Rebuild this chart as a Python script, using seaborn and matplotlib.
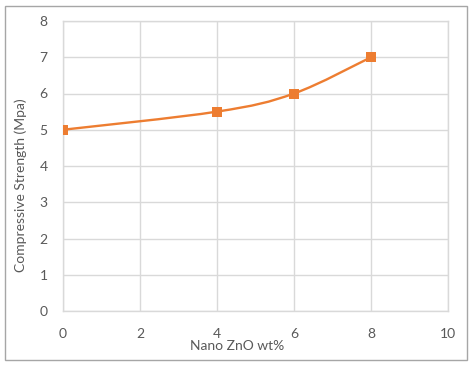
import numpy as np
import matplotlib
matplotlib.use("Agg")
import matplotlib.pyplot as plt
import seaborn as sns
from matplotlib.path import Path
from matplotlib.patches import PathPatch, Rectangle

# data
zno_wt = [0, 4, 6, 8]
strength = [5.0, 5.5, 6.0, 7.0]
x_ticks = [0, 2, 4, 6, 8, 10]
y_ticks = [0, 1, 2, 3, 4, 5, 6, 7, 8]

orange = "#ED7D31"
grid_col = "#D9D9D9"
text_col = "#595959"

sns.set_style("white")
plt.rcParams["font.family"] = ["Lato", "DejaVu Sans"]

fig = plt.figure(figsize=(4.76, 3.66), dpi=100)
ax = fig.add_axes([63 / 476, 55 / 366, 385 / 476, 290 / 366])

# Excel-style smoothed line: cubic bezier segments through the data points
pts = np.column_stack([zno_wt, strength])
verts = [pts[0]]
codes = [Path.MOVETO]
n = len(pts)
for i in range(n - 1):
    p_prev = pts[max(i - 1, 0)]
    p0 = pts[i]
    p1 = pts[i + 1]
    p_next = pts[min(i + 2, n - 1)]
    c1 = p0 + (p1 - p_prev) / 6
    c2 = p1 - (p_next - p0) / 6
    verts += [c1, c2, p1]
    codes += [Path.CURVE4] * 3
ax.add_patch(PathPatch(Path(verts, codes), facecolor="none", edgecolor=orange,
                       lw=1.7, capstyle="round", zorder=3))

sns.scatterplot(x=zno_wt, y=strength, marker="s", s=55, color=orange,
                edgecolor=orange, linewidth=0, ax=ax, zorder=4)

ax.set_xlim(0, 10)
ax.set_ylim(0, 8)
ax.set_xticks(x_ticks)
ax.set_yticks(y_ticks)
ax.grid(True, color=grid_col, lw=1)
ax.set_axisbelow(True)
for s in ax.spines.values():
    s.set_color(grid_col)
    s.set_linewidth(1)
ax.tick_params(length=0, labelsize=10, labelcolor=text_col)
ax.tick_params(axis="x", pad=12)
ax.tick_params(axis="y", pad=11)

ax.set_xlabel("Nano ZnO wt%", fontsize=10, color=text_col)
ax.xaxis.set_label_coords(0.453, -0.122)
ax.xaxis.label.set_va("center")
ax.set_ylabel("Compressive Strength (Mpa)", fontsize=10, color=text_col)
ax.yaxis.set_label_coords(-0.109, 0.434)
ax.yaxis.label.set_va("center")

# chart area border
fig.add_artist(Rectangle((5 / 476, 6 / 366), 462 / 476, 354 / 366,
                         transform=fig.transFigure, fill=False,
                         edgecolor="#A6A6A6", lw=1))

fig.savefig("out.png", dpi=100)
